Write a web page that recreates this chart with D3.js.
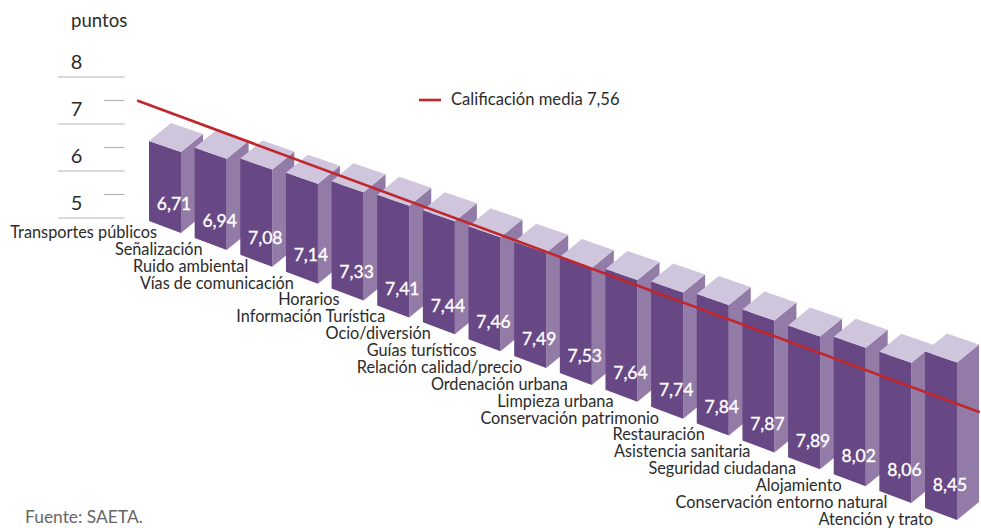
<!DOCTYPE html>
<html><head><meta charset="utf-8">
<script src="https://cdn.jsdelivr.net/npm/d3@7"></script>
<style>html,body{margin:0;padding:0;background:#fff}svg{display:block}text{font-family:Lato,sans-serif}</style>
</head><body><svg id="c" width="981" height="528"></svg>
<script>
const categories = ["Transportes públicos","Señalización","Ruido ambiental","Vías de comunicación","Horarios","Información Turística","Ocio/diversión","Guías turísticos","Relación calidad/precio","Ordenación urbana","Limpieza urbana","Conservación patrimonio","Restauración","Asistencia sanitaria","Seguridad ciudadana","Alojamiento","Conservación entorno natural","Atención y trato"];
const values = [6.71,6.94,7.08,7.14,7.33,7.41,7.44,7.46,7.49,7.53,7.64,7.74,7.84,7.87,7.89,8.02,8.06,8.45];
const axisTicks = [5,6,7,8];
const axisHalfTicks = [5.5,6.5,7.5];
const meanValue = 7.56;
const meanLabel = "Calificación media 7,56";
const unitLabel = "puntos";
const sourceLabel = "Fuente: SAETA.";
const fmt = v => d3.format(".2f")(v).replace(".", ",");

const svg = d3.select("#c");
const x = d3.scaleLinear().domain([0,17]).range([149,925]);
const base = d3.scaleLinear().domain([0,17]).range([221,508]);
const h = d3.scaleLinear().domain([6.71,8.45]).range([80,156.5]);
const yAxis = d3.scaleLinear().domain([5,8]).range([218,77]);
const W = 32, TS = 11, BS = 12, DX = 22, DY = 18;
const poly = pts => pts.map(p => p.join(",")).join(" ");

// axis
const ax = svg.append("g");
ax.selectAll("line.maj").data(axisTicks).join("line").attr("class","maj")
  .attr("x1",58).attr("x2",124.5).attr("y1",d=>yAxis(d)).attr("y2",d=>yAxis(d))
  .attr("stroke","#b4b4b4").attr("stroke-width",1.2);
ax.selectAll("line.min").data(axisHalfTicks).join("line").attr("class","min")
  .attr("x1",104).attr("x2",124.5).attr("y1",d=>yAxis(d)).attr("y2",d=>yAxis(d))
  .attr("stroke","#b4b4b4").attr("stroke-width",1.2);
ax.selectAll("text").data(axisTicks).join("text")
  .attr("x",76.5).attr("y",d=>yAxis(d)-8).attr("text-anchor","middle")
  .attr("font-size",20).attr("fill","#2b2b2b").text(d=>d);
svg.append("text").attr("x",71).attr("y",27).attr("font-size",18.6).attr("fill","#2b2b2b").text(unitLabel);

// bars
const bars = svg.append("g").selectAll("g").data(values).join("g");
bars.each(function(v,i){
  const g = d3.select(this), l = x(i), b = base(i), t = b - h(v);
  g.append("polygon").attr("fill","#927ba6").attr("points",poly([[l+W,t+TS],[l+W+DX,t+TS-DY],[l+W+DX,b+BS-DY],[l+W,b+BS]]));
  g.append("polygon").attr("fill","#674784").attr("points",poly([[l,t],[l+W,t+TS],[l+W,b+BS],[l,b]]));
  g.append("polygon").attr("fill","#cfc6dd").attr("points",poly([[l,t],[l+DX,t-DY],[l+W+DX,t+TS-DY],[l+W,t+TS]]));
  g.append("text").attr("x",l+25).attr("y",b-17-(i>14?(i-14)*2:0)).attr("dy","0.36em").attr("text-anchor","middle")
    .attr("font-size",17.5).attr("fill","#fff").attr("stroke","#fff").attr("stroke-width",0.35).text(fmt(v));
});

// category labels
svg.append("g").selectAll("text").data(categories).join("text")
  .attr("x",(d,i)=>x(i)+8).attr("y",(d,i)=>base(i)+11).attr("dy","0.36em")
  .attr("text-anchor","end").attr("font-size",16.3).attr("fill","#2b2b2b").text(d=>d);

// mean line
const line = d3.line().x(t=>x(t)).y(t=>base(t)-h(meanValue)+1.3);
svg.append("path").attr("d",line([-0.26,18.2])).attr("fill","none").attr("stroke","#c0272d").attr("stroke-width",2.6);

// legend
svg.append("line").attr("x1",419).attr("x2",441).attr("y1",100).attr("y2",100).attr("stroke","#c0272d").attr("stroke-width",2.6);
svg.append("text").attr("x",451).attr("y",99).attr("dy","0.36em").attr("font-size",16.6).attr("fill","#2b2b2b").text(meanLabel);
svg.append("text").attr("x",25).attr("y",517).attr("dy","0.36em").attr("font-size",17.4).attr("fill","#666").text(sourceLabel);
</script></body></html>
